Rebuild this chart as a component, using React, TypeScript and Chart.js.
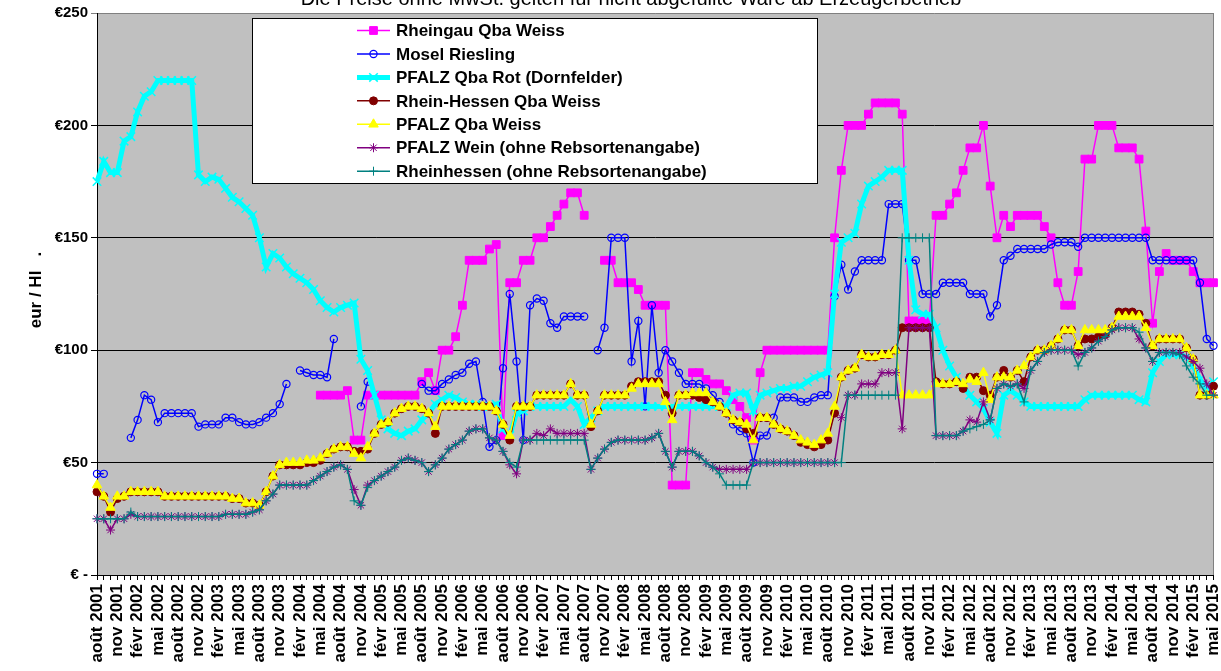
import React, { useEffect, useRef } from 'react';
import { Chart, registerables } from 'chart.js';
import { drawPoint } from 'chart.js/helpers';

Chart.register(...registerables);

const FONT = "'Liberation Sans', Arial, Helvetica, sans-serif";

const MONTHS_FR = ['janv', 'févr', 'mars', 'avr', 'mai', 'juin', 'juil', 'août', 'sept', 'oct', 'nov', 'déc'];
const START_YEAR = 2001;
const START_MONTH = 7; // août
const N_MONTHS = 166;
const categories: string[] = Array.from({ length: N_MONTHS }, (_, i) => {
  const m = (START_MONTH + i) % 12;
  const y = START_YEAR + Math.floor((START_MONTH + i) / 12);
  return `${MONTHS_FR[m]} ${y}`;
});

const TITLE = 'Die Preise ohne MwSt. gelten für nicht abgefüllte Ware ab Erzeugerbetrieb';
const Y_TITLE = 'eur / Hl   .';
const Y_TICKS = [0, 50, 100, 150, 200, 250];

const N = null;

const rheingauQbaWeiss = [
  N, N, N, N, N, N, N, N, N, N,
  N, N, N, N, N, N, N, N, N, N,
  N, N, N, N, N, N, N, N, N, N,
  N, N, N, 80, 80, 80, 80, 82, 60, 60,
  80, 80, 80, 80, 80, 80, 80, 80, 86, 90,
  82, 100, 100, 106, 120, 140, 140, 140, 145, 147,
  62, 130, 130, 140, 140, 150, 150, 155, 160, 165,
  170, 170, 160, N, N, 140, 140, 130, 130, 130,
  127, 120, 120, 120, 120, 40, 40, 40, 90, 90,
  87, 85, 85, 82, 78, 75, 70, 60, 90, 100,
  100, 100, 100, 100, 100, 100, 100, 100, 100, 150,
  180, 200, 200, 200, 205, 210, 210, 210, 210, 205,
  113, 113, 113, 113, 160, 160, 165, 170, 180, 190,
  190, 200, 173, 150, 160, 155, 160, 160, 160, 160,
  155, 150, 130, 120, 120, 135, 185, 185, 200, 200,
  200, 190, 190, 190, 185, 153, 112, 135, 143, 140,
  140, 140, 135, 130, 130, 130,
];

const moselRiesling = [
  45, 45, N, N, N, 61, 69, 80, 78, 68,
  72, 72, 72, 72, 72, 66, 67, 67, 67, 70,
  70, 68, 67, 67, 68, 70, 72, 76, 85, N,
  91, 90, 89, 89, 88, 105, N, N, N, 75,
  86, N, N, N, N, N, N, N, 85, 82,
  82, 85, 87, 89, 90, 94, 95, 77, 57, 60,
  92, 125, 95, 60, 120, 123, 122, 112, 110, 115,
  115, 115, 115, N, 100, 110, 150, 150, 150, 95,
  113, 75, 120, 90, 100, 95, 90, 85, 85, 85,
  83, 80, 77, 72, 67, 64, 63, 50, 62, 62,
  70, 79, 79, 79, 77, 77, 79, 80, 80, 124,
  138, 127, 135, 140, 140, 140, 140, 165, 165, 165,
  140, 140, 125, 125, 125, 130, 130, 130, 130, 125,
  125, 125, 115, 120, 140, 142, 145, 145, 145, 145,
  145, 147, 148, 148, 148, 146, 150, 150, 150, 150,
  150, 150, 150, 150, 150, 150, 140, 140, 140, 140,
  140, 140, 140, 130, 105, 102,
];

const pfalzQbaRot = [
  175, 184, 179, 179, 193, 195, 206, 213, 215, 220,
  220, 220, 220, 220, 220, 178, 175, 177, 176, 172,
  168, 166, 163, 160, 150, 137, 143, 141, 137, 134,
  132, 130, 127, 122, 119, 117, 119, 120, 121, 96,
  91, 80, 69, 65, 63, 62, 64, 65, 69, 72,
  76, 78, 80, 79, 77, 76, 76, 75, 75, 76,
  65, 62, 72, 73, 75, 75, 75, 75, 75, 75,
  78, 75, 67, 70, 73, 75, 75, 75, 75, 75,
  75, 75, 75, 75, 75, 75, 75, 75, 75, 75,
  75, 75, 75, 75, 80, 81, 81, 73, 80, 81,
  82, 83, 83, 84, 84, 86, 88, 89, 90, 125,
  148, 150, 152, 165, 173, 175, 177, 180, 180, 180,
  140, 118, 116, 116, 110, 100, 93, 88, 84, 80,
  77, 74, 68, 63, 80, 82, 80, 77, 75, 75,
  75, 75, 75, 75, 75, 75, 78, 80, 80, 80,
  80, 80, 80, 80, 78, 77, 90, 95, 98, 98,
  98, 97, 93, 87, 83, 86,
];

const rheinHessenQbaWeiss = [
  37, 35, 28, 34, 35, 37, 37, 37, 37, 37,
  35, 35, 35, 35, 35, 35, 35, 35, 35, 35,
  34, 34, 32, 32, 31, 37, 44, 49, 49, 49,
  49, 50, 50, 51, 54, 56, 57, 57, 55, 55,
  56, 63, 67, 68, 72, 74, 75, 75, 74, 72,
  63, 75, 75, 75, 75, 75, 75, 75, 75, 73,
  67, 60, 75, 75, 75, 80, 80, 80, 80, 80,
  85, 80, 80, 66, 73, 80, 80, 80, 80, 84,
  86, 86, 86, 86, 80, 72, 80, 80, 80, 79,
  78, 77, 75, 72, 69, 68, 65, 63, 70, 70,
  67, 65, 64, 62, 59, 58, 57, 58, 60, 72,
  88, 91, 92, 98, 97, 97, 98, 98, 100, 110,
  110, 110, 110, 110, 86, 85, 85, 86, 83, 88,
  88, 82, 80, 88, 91, 88, 91, 86, 97, 100,
  100, 102, 105, 109, 109, 102, 105, 105, 106, 107,
  110, 117, 117, 117, 116, 112, 102, 105, 105, 105,
  105, 101, 96, 80, 80, 84,
];

const pfalzQbaWeiss = [
  40, 35, 30, 35, 35, 37, 37, 37, 37, 37,
  35, 35, 35, 35, 35, 35, 35, 35, 35, 35,
  34, 34, 32, 32, 31, 37, 44, 49, 50, 50,
  50, 51, 51, 52, 54, 56, 57, 57, 54, 52,
  57, 63, 67, 68, 72, 74, 75, 75, 74, 72,
  66, 75, 75, 75, 75, 75, 75, 75, 75, 73,
  67, 62, 75, 75, 75, 80, 80, 80, 80, 80,
  85, 80, 80, 67, 73, 80, 80, 80, 80, 83,
  85, 85, 85, 85, 77, 69, 80, 80, 81, 81,
  81, 77, 75, 72, 69, 68, 67, 60, 70, 70,
  67, 65, 64, 62, 60, 59, 58, 60, 63, 75,
  88, 91, 92, 98, 97, 97, 98, 98, 100, 80,
  80, 80, 80, 80, 85, 85, 85, 86, 85, 87,
  86, 90, 78, 88, 88, 88, 91, 93, 97, 100,
  100, 102, 105, 109, 109, 102, 109, 109, 109, 109,
  110, 115, 115, 115, 115, 110, 102, 105, 105, 105,
  105, 101, 96, 80, 80, 80,
];

const pfalzWein = [
  25, 25, 20, 25, 25, 27, 26, 26, 26, 26,
  26, 26, 26, 26, 26, 26, 26, 26, 26, 27,
  27, 27, 27, 28, 29, 33, 36, 40, 40, 40,
  40, 40, 42, 44, 46, 48, 49, 47, 38, 31,
  40, 42, 44, 46, 48, 51, 52, 51, 50, 46,
  49, 52, 56, 58, 60, 64, 65, 65, 61, 60,
  55, 49, 45, 60, 60, 63, 62, 65, 63, 63,
  63, 63, 63, 47, 52, 56, 59, 60, 60, 60,
  60, 60, 61, 63, 55, 48, 55, 55, 55, 53,
  50, 48, 47, 47, 47, 47, 47, 50, 50, 50,
  50, 50, 50, 50, 50, 50, 50, 50, 50, 50,
  70, 80, 80, 85, 85, 85, 90, 90, 90, 65,
  110, 110, 110, 110, 62, 62, 62, 62, 64, 69,
  68, 77, 69, 83, 85, 84, 85, 83, 91, 95,
  99, 100, 100, 100, 100, 98, 99, 101, 104, 106,
  109, 110, 110, 110, 105, 101, 95, 99, 99, 99,
  99, 97, 95, 92, 85, 80,
];

const rheinhessenWein = [
  25, 25, 25, 25, 25, 28, 26, 26, 26, 26,
  26, 26, 26, 26, 26, 26, 26, 26, 26, 27,
  27, 27, 27, 28, 29, 33, 36, 40, 40, 40,
  40, 40, 42, 44, 46, 48, 49, 47, 33, 31,
  39, 42, 44, 46, 48, 51, 52, 51, 50, 46,
  49, 52, 56, 58, 60, 64, 65, 65, 61, 60,
  55, 50, 48, 60, 60, 60, 60, 60, 60, 60,
  60, 60, 60, 47, 52, 56, 59, 60, 60, 60,
  60, 60, 61, 63, 55, 48, 55, 55, 55, 53,
  50, 48, 45, 40, 40, 40, 40, 50, 50, 50,
  50, 50, 50, 50, 50, 50, 50, 50, 50, 50,
  50, 80, 80, 80, 80, 80, 80, 80, 80, 150,
  150, 150, 150, 150, 62, 62, 62, 62, 64, 65,
  66, 67, 69, 83, 85, 84, 85, 77, 91, 95,
  99, 100, 100, 100, 100, 93, 99, 101, 104, 106,
  109, 110, 110, 110, 108, 101, 95, 99, 99, 99,
  98, 93, 88, 85, 80, 80,
];

const SERIES = [
  { label: 'Rheingau Qba Weiss', data: rheingauQbaWeiss, color: '#FF00FF', fill: '#FF00FF', style: 'rect', radius: 5.5, width: 1.5, pbw: 1 },
  { label: 'Mosel Riesling', data: moselRiesling, color: '#0000FF', fill: 'rgba(0,0,0,0)', style: 'circle', radius: 3.6, width: 1.5, pbw: 1.2 },
  { label: 'PFALZ Qba Rot (Dornfelder)', data: pfalzQbaRot, color: '#00FFFF', fill: '#00FFFF', style: 'crossRot', radius: 6, width: 5, pbw: 1.5 },
  { label: 'Rhein-Hessen Qba Weiss', data: rheinHessenQbaWeiss, color: '#800000', fill: '#800000', style: 'circle', radius: 4, width: 1.5, pbw: 1 },
  { label: 'PFALZ Qba Weiss', data: pfalzQbaWeiss, color: '#FFFF00', fill: '#FFFF00', style: 'triangle', radius: 5.5, width: 1.5, pbw: 1 },
  { label: 'PFALZ Wein (ohne Rebsortenangabe)', data: pfalzWein, color: '#800080', fill: '#800080', style: 'star', radius: 4.5, width: 1.5, pbw: 1 },
  { label: 'Rheinhessen (ohne Rebsortenangabe)', data: rheinhessenWein, color: '#008080', fill: '#008080', style: 'cross', radius: 4.5, width: 1.5, pbw: 1 },
];

const decorPlugin = {
  id: 'decor',
  beforeDraw(chart: any) {
    const { ctx, chartArea: a } = chart;
    ctx.save();
    ctx.fillStyle = '#C0C0C0';
    ctx.fillRect(a.left, a.top, a.right - a.left, a.bottom - a.top);
    ctx.restore();
  },
  beforeDatasetsDraw(chart: any) {
    const { ctx, chartArea: a } = chart;
    ctx.save();
    ctx.strokeStyle = '#808080';
    ctx.lineWidth = 1;
    ctx.beginPath();
    ctx.moveTo(Math.round(a.right) - 0.5, a.top);
    ctx.lineTo(Math.round(a.right) - 0.5, a.bottom);
    ctx.stroke();
    ctx.restore();
  },
  afterDraw(chart: any) {
    const { ctx } = chart;
    ctx.save();
    // cut-off title
    ctx.fillStyle = '#000';
    ctx.font = `20px ${FONT}`;
    ctx.textAlign = 'center';
    ctx.textBaseline = 'alphabetic';
    ctx.fillText(TITLE, 631, 5);
    // y axis title
    ctx.save();
    ctx.translate(36, 290);
    ctx.rotate(-Math.PI / 2);
    ctx.font = `bold 17px ${FONT}`;
    ctx.textAlign = 'center';
    ctx.textBaseline = 'middle';
    ctx.fillText(Y_TITLE, 0, 0);
    ctx.restore();
    // legend box
    const bx = 252.5, by = 18.5, bw = 565, bh = 165;
    ctx.fillStyle = '#FFFFFF';
    ctx.fillRect(bx, by, bw, bh);
    ctx.strokeStyle = '#000';
    ctx.lineWidth = 1;
    ctx.strokeRect(bx, by, bw, bh);
    chart.data.datasets.forEach((ds: any, k: number) => {
      const y = 30.5 + k * 23.45;
      ctx.strokeStyle = ds.borderColor;
      ctx.lineWidth = ds.borderWidth;
      ctx.beginPath();
      ctx.moveTo(357, y);
      ctx.lineTo(390, y);
      ctx.stroke();
      ctx.fillStyle = ds.pointBackgroundColor;
      ctx.strokeStyle = ds.pointBorderColor;
      ctx.lineWidth = ds.pointBorderWidth;
      drawPoint(ctx, { pointStyle: ds.pointStyle, radius: ds.pointRadius, borderWidth: ds.pointBorderWidth, rotation: 0 } as any, 373.5, y);
      ctx.fillStyle = '#000';
      ctx.font = `bold 17px ${FONT}`;
      ctx.textAlign = 'left';
      ctx.textBaseline = 'middle';
      ctx.fillText(ds.label, 396, y + 1);
    });
    ctx.restore();
  },
};

export default function App() {
  const ref = useRef<HTMLCanvasElement | null>(null);
  useEffect(() => {
    if (!ref.current) return;
    Chart.defaults.font.family = FONT;
    const chart = new Chart(ref.current, {
      type: 'line',
      data: {
        labels: categories,
        datasets: SERIES.map((s, k) => ({
          label: s.label,
          data: s.data,
          borderColor: s.color,
          backgroundColor: s.fill,
          borderWidth: s.width,
          pointStyle: s.style,
          pointRadius: s.radius,
          pointHoverRadius: s.radius,
          pointBackgroundColor: s.fill,
          pointBorderColor: s.color,
          pointBorderWidth: s.pbw,
          tension: 0,
          spanGaps: false,
          fill: false,
          order: SERIES.length - k,
        })),
      },
      options: {
        responsive: false,
        animation: false,
        devicePixelRatio: 1,
        layout: { padding: { top: 13, right: 6, left: 0, bottom: 0 } },
        plugins: { legend: { display: false }, title: { display: false }, tooltip: { enabled: false } },
        scales: {
          x: {
            type: 'category',
            offset: false,
            grid: { display: true, drawOnChartArea: false, drawTicks: true, tickLength: 5, color: '#000', offset: false },
            border: { display: true, color: '#000', width: 1 },
            ticks: {
              autoSkip: false,
              maxRotation: 90,
              minRotation: 90,
              padding: 4,
              color: '#000',
              font: { family: FONT, size: 17, weight: 'bold' },
              callback: (_v: any, i: number) => (i % 3 === 0 ? categories[i] : ''),
            },
            afterFit: (s: any) => {
              s.height = 96;
              s.paddingLeft = 0;
              s.paddingRight = 0;
            },
          },
          y: {
            min: 0,
            max: 250,
            afterBuildTicks: (s: any) => {
              s.ticks = Y_TICKS.map((v) => ({ value: v }));
            },
            grid: {
              color: (c: any) => (c.tick && c.tick.value === 250 ? '#808080' : '#000'),
              tickLength: 6,
              drawTicks: true,
            },
            border: { display: true, color: '#000', width: 1 },
            ticks: {
              padding: 3,
              color: '#000',
              font: { family: FONT, size: 15, weight: 'bold' },
              callback: (v: any) => (v === 0 ? '€ -' : '€' + v),
            },
            afterFit: (s: any) => {
              s.width = 97;
              s.paddingTop = 0;
              s.paddingBottom = 0;
            },
          },
        },
      },
      plugins: [decorPlugin],
    } as any);
    return () => chart.destroy();
  }, []);
  return (
    <div style={{ position: 'absolute', left: 0, top: 0, width: 1221, height: 671 }}>
      <canvas ref={ref} width={1221} height={671} style={{ display: 'block', width: 1221, height: 671 }} />
    </div>
  );
}
